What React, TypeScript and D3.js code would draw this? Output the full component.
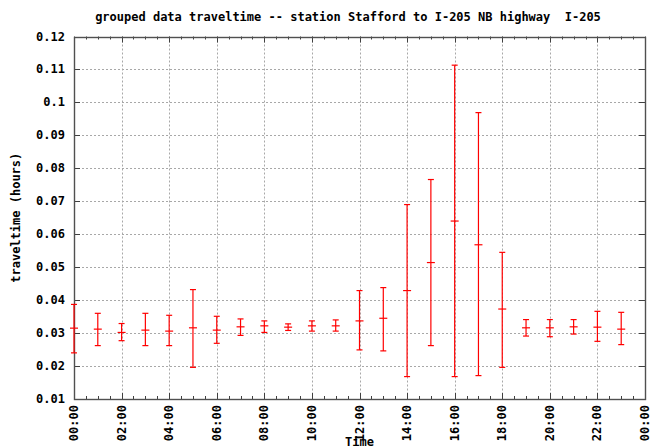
import React from 'react'
import * as d3 from 'd3'

// hour of day for each grouped sample
const hours = [0, 1, 2, 3, 4, 5, 6, 7, 8, 9, 10, 11, 12, 13, 14, 15, 16, 17, 18, 19, 20, 21, 22, 23]
const meanTime = [
  0.0315, 0.0312, 0.0302, 0.0309, 0.0306, 0.0316, 0.0309, 0.0319, 0.0322, 0.0318, 0.0322, 0.0322,
  0.0337, 0.0345, 0.0429, 0.0514, 0.064, 0.0568, 0.0373, 0.0316, 0.0316, 0.0319, 0.0318, 0.0312,
]
const highTime = [
  0.0387, 0.036, 0.0329, 0.036, 0.0354, 0.0432, 0.0351, 0.0343, 0.0337, 0.0328, 0.0337, 0.034,
  0.0429, 0.0438, 0.069, 0.0766, 0.1113, 0.0969, 0.0545, 0.0341, 0.0341, 0.0341, 0.0366, 0.0363,
]
const lowTime = [
  0.024, 0.0262, 0.0277, 0.0262, 0.0262, 0.0196, 0.0269, 0.0293, 0.0302, 0.0308, 0.0306, 0.0306,
  0.0249, 0.0246, 0.0168, 0.0262, 0.0168, 0.0171, 0.0196, 0.0291, 0.0289, 0.0297, 0.0275, 0.0265,
]
const xTickHours = [0, 2, 4, 6, 8, 10, 12, 14, 16, 18, 20, 22, 24]
const xTickLabels = ['00:00', '02:00', '04:00', '06:00', '08:00', '10:00', '12:00', '14:00', '16:00', '18:00', '20:00', '22:00', '00:00']
const yTicks = [0.01, 0.02, 0.03, 0.04, 0.05, 0.06, 0.07, 0.08, 0.09, 0.1, 0.11, 0.12]

const W = 650
const H = 447
const left = 74
const right = 645
const top = 36.5
const bottom = 399

const font = '"DejaVu Sans Mono", monospace'

export default function App() {
  const x = d3.scaleLinear().domain([0, 24]).range([left, right])
  const y = d3.scaleLinear().domain([0.01, 0.12]).range([bottom, top])
  const minorX = d3.range(0, 24.01, 0.5).filter((h) => h % 2 !== 0)
  const red = '#ff0000'
  const cap = 3
  const mk = 4

  return (
    <svg
      width={W}
      height={H}
      style={{ position: 'absolute', left: 0, top: 0, background: '#fff' }}
      fontFamily={font}
    >
      {/* grid */}
      <g stroke="#a8a8a8" strokeWidth={1} strokeDasharray="2,2">
        {xTickHours.slice(1, -1).map((h) => (
          <line key={'gx' + h} x1={Math.round(x(h)) + 0.5} x2={Math.round(x(h)) + 0.5} y1={top} y2={bottom} />
        ))}
        {yTicks.slice(1, -1).map((v) => (
          <line key={'gy' + v} x1={left} x2={right} y1={Math.round(y(v)) + 0.5} y2={Math.round(y(v)) + 0.5} />
        ))}
      </g>

      {/* ticks */}
      <g stroke="#404040" strokeWidth={1}>
        {xTickHours.map((h) => {
          const px = Math.round(x(h)) + 0.5
          return (
            <g key={'tx' + h}>
              <line x1={px} x2={px} y1={bottom} y2={bottom - 6} />
              <line x1={px} x2={px} y1={top} y2={top + 6} />
            </g>
          )
        })}
        {minorX.map((h) => {
          const px = Math.round(x(h)) + 0.5
          return (
            <g key={'mx' + h}>
              <line x1={px} x2={px} y1={bottom} y2={bottom - 3} />
              <line x1={px} x2={px} y1={top} y2={top + 3} />
            </g>
          )
        })}
        {yTicks.map((v) => {
          const py = Math.round(y(v)) + 0.5
          return (
            <g key={'ty' + v}>
              <line x1={left} x2={left + 6} y1={py} y2={py} />
              <line x1={right} x2={right - 6} y1={py} y2={py} />
            </g>
          )
        })}
      </g>

      {/* frame */}
      <rect
        x={left + 0.5}
        y={Math.round(top) + 0.5}
        width={right - left}
        height={Math.round(bottom) - Math.round(top)}
        fill="none"
        stroke="#505050"
        strokeWidth={1.4}
      />

      {/* error bars */}
      <g stroke={red} strokeWidth={1.2} fill="none">
        {hours.map((h, i) => {
          const px = x(h)
          return (
            <g key={'e' + h}>
              <line x1={px} x2={px} y1={y(highTime[i])} y2={y(lowTime[i])} />
              <line x1={px - cap} x2={px + cap} y1={y(highTime[i])} y2={y(highTime[i])} />
              <line x1={px - cap} x2={px + cap} y1={y(lowTime[i])} y2={y(lowTime[i])} />
              <line x1={px - mk} x2={px + mk} y1={y(meanTime[i])} y2={y(meanTime[i])} />
            </g>
          )
        })}
      </g>

      {/* y tick labels */}
      <g fontSize={12} fontWeight="bold" fill="#000" textAnchor="end">
        {yTicks.map((v) => (
          <text key={'ly' + v} x={65} y={y(v) + 4}>
            {v === 0.1 ? '0.1' : v.toFixed(2)}
          </text>
        ))}
      </g>

      {/* x tick labels */}
      <g fontSize={12} fontWeight="bold" fill="#000" textAnchor="end">
        {xTickHours.map((h, i) => (
          <text key={'lx' + i} transform={`translate(${x(h) + 4},${bottom + 6}) rotate(-90)`}>
            {xTickLabels[i]}
          </text>
        ))}
      </g>

      {/* titles */}
      <text x={348} y={21} fontSize={12} fontWeight="bold" textAnchor="middle" xmlSpace="preserve">
        {'grouped data traveltime -- station Stafford to I-205 NB highway  I-205'}
      </text>
      <text
        transform={`translate(20,${(top + bottom) / 2}) rotate(-90)`}
        fontSize={12}
        fontWeight="bold"
        textAnchor="middle"
      >
        traveltime (hours)
      </text>
      <text x={x(12)} y={446} fontSize={12} fontWeight="bold" textAnchor="middle">
        Time
      </text>
    </svg>
  )
}
